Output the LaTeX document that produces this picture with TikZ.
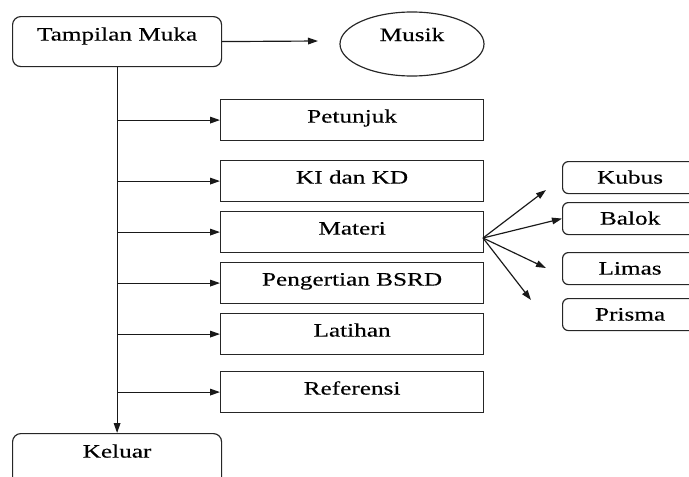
\documentclass[tikz,border=0pt]{standalone}
\usepackage{fontspec}
\setmainfont{Liberation Serif}[FakeStretch=1.33, FakeBold=0.3]
\usetikzlibrary{arrows.meta,shapes.geometric,positioning}

\begin{document}
\begin{tikzpicture}[x=0.03cm, y=-0.03cm,
  menu/.style={draw=black!85, rounded corners=7pt, line width=1pt, inner sep=0pt, anchor=north west, minimum width=6.27cm, text height=0.72cm, text depth=0.78cm, font=\fontsize{16.2}{18}\selectfont},
  page/.style={draw=black!85, line width=1pt, inner sep=0pt, anchor=north west, minimum width=7.89cm, text height=0.69cm, text depth=0.54cm, font=\fontsize{16.2}{18}\selectfont},
  solid/.style={draw=black!85, rounded corners=5pt, line width=1pt, inner sep=0pt, anchor=north west, minimum width=4.05cm, text height=0.66cm, text depth=0.30cm, font=\fontsize{16.2}{18}\selectfont},
  arrow/.style={-{Triangle[length=3mm, width=2mm]}, black!90, line width=1pt}
]
  \clip (0,0) rectangle (689,477);

  % Main menu
  \node[menu] (tampilan) at (12,16) {Tampilan Muka};
  \node[draw=black!85, line width=1pt, ellipse, minimum width=4.32cm, minimum height=1.92cm, inner sep=0pt, text height=0.39cm, text depth=0.57cm, font=\fontsize{16.2}{18}\selectfont] (musik) at (412,44) {Musik};
  \node[menu, text height=0.72cm, text depth=0.96cm] (keluar) at (12,433) {Keluar};

  % Pages
  \node[page] (petunjuk) at (220,99) {Petunjuk};
  \node[page] (kikd) at (220,160) {KI dan KD};
  \node[page] (materi) at (220,211) {Materi};
  \node[page] (bsrd) at (220,262) {Pengertian BSRD};
  \node[page] (latihan) at (220,313) {Latihan};
  \node[page] (referensi) at (220,371) {Referensi};

  % Solids
  \node[solid] (kubus) at (562,161) {Kubus};
  \node[solid] (balok) at (562,202) {Balok};
  \node[solid] (limas) at (562,252) {Limas};
  \node[solid] (prisma) at (562,298) {Prisma};

  \coordinate (musiktip) at (318,41);
  \coordinate (fan) at (483,238);
  \coordinate (kubustip) at (546,190);
  \coordinate (limastip) at (546,268);
  \coordinate (prismatip) at (531,300);

  \draw[arrow] (tampilan.east) -- (musiktip);
  \draw[arrow] (tampilan.south) -- (keluar.north);

  \draw[arrow] (tampilan.south |- petunjuk.west) -- (petunjuk.west);
  \draw[arrow] (tampilan.south |- kikd.west) -- (kikd.west);
  \draw[arrow] (tampilan.south |- materi.west) -- (materi.west);
  \draw[arrow] (tampilan.south |- bsrd.west) -- (bsrd.west);
  \draw[arrow] (tampilan.south |- latihan.west) -- (latihan.west);
  \draw[arrow] (tampilan.south |- referensi.west) -- (referensi.west);

  \draw[arrow] (fan) -- (kubustip);
  \draw[arrow] (fan) -- (balok.west);
  \draw[arrow] (fan) -- (limastip);
  \draw[arrow] (fan) -- (prismatip);
\end{tikzpicture}
\end{document}
